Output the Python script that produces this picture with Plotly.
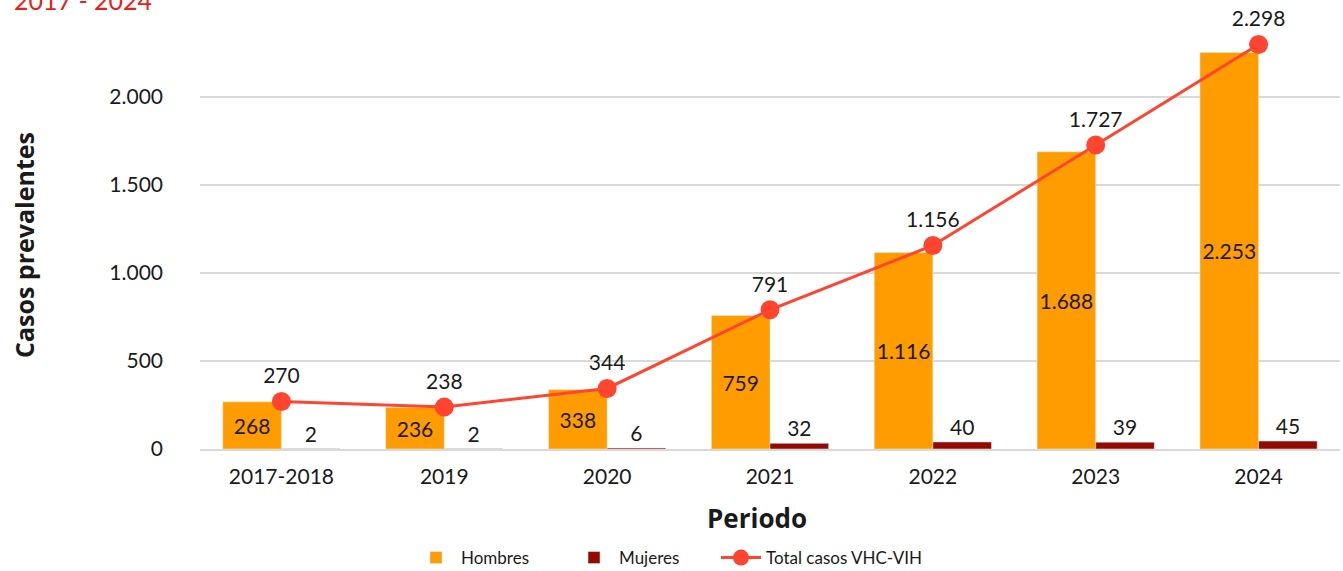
import plotly.graph_objects as go

periodos = ["2017-2018", "2019", "2020", "2021", "2022", "2023", "2024"]
hombres = [268, 236, 338, 759, 1116, 1688, 2253]
mujeres = [2, 2, 6, 32, 40, 39, 45]
total = [270, 238, 344, 791, 1156, 1727, 2298]

FONT = "Lato"
TITLE_FONT = "Open Sans"
W, H = 1343, 571
L, R, T, B = 200, 3, 10, 122
PW, PH = W - L - R, H - T - B


def px_x(x):
    return (x - L) / PW


def px_y(y):
    return (H - B - y) / PH


def legend_at(left):
    return dict(
        orientation="h", x=px_x(left), xanchor="left",
        y=px_y(558), yanchor="middle",
        font=dict(size=17, family=FONT), itemwidth=40,
    )


fig = go.Figure()
fig.add_trace(go.Bar(
    x=periodos, y=hombres, name="Hombres",
    marker_color="#FF9C00",
    texttemplate="%{y:,}",
    textposition="inside", insidetextanchor="middle",
    textangle=0, constraintext="none",
    textfont=dict(size=21, color="#1a1a1a", family=FONT),
    legend="legend",
))
fig.add_trace(go.Bar(
    x=periodos, y=mujeres, name="Mujeres",
    marker_color="#920A00",
    texttemplate="%{y:,}",
    textposition="outside", textangle=0, constraintext="none",
    textfont=dict(size=21, color="#1a1a1a", family=FONT),
    cliponaxis=False,
    legend="legend2",
))
fig.add_trace(go.Scatter(
    x=periodos, y=total, name="Total casos VHC-VIH",
    mode="lines+markers+text",
    line=dict(color="#FF4530", width=3),
    marker=dict(color="#FF4530", size=19),
    texttemplate="%{y:,}",
    textposition="top center",
    textfont=dict(size=21, color="#1a1a1a", family=FONT),
    cliponaxis=False,
    legend="legend3",
))

fig.update_layout(
    width=W, height=H,
    margin=dict(l=L, r=R, t=T, b=B, autoexpand=False),
    plot_bgcolor="white", paper_bgcolor="white",
    barmode="group", bargap=0.28, bargroupgap=0,
    separators=",.",
    font=dict(family=FONT, size=21, color="#1a1a1a"),
    showlegend=True,
    legend=legend_at(411),
    legend2=legend_at(569),
    legend3=legend_at(716),
    xaxis=dict(
        showgrid=False, showline=True, linecolor="#d9d9d9", linewidth=1.5,
        ticks="", tickfont=dict(size=21), ticklabelstandoff=8,
        automargin=False,
    ),
    yaxis=dict(
        range=[0, 2494], dtick=500, tickformat=",d",
        showgrid=True, gridcolor="#d9d9d9", gridwidth=1.5,
        zeroline=False, ticks="", tickfont=dict(size=21),
        ticklabelstandoff=36, automargin=False,
    ),
    annotations=[
        dict(text="<b>Casos prevalentes</b>", textangle=-90,
             xref="paper", yref="paper", x=px_x(24), y=px_y(245),
             xanchor="center", yanchor="middle", showarrow=False,
             font=dict(size=25, family=TITLE_FONT, color="#1a1a1a")),
        dict(text="<b>Periodo</b>",
             xref="paper", yref="paper", x=px_x(757), y=px_y(518),
             xanchor="center", yanchor="middle", showarrow=False,
             font=dict(size=26, family=TITLE_FONT, color="#1a1a1a")),
        dict(text="2017 - 2024",
             xref="paper", yref="paper", x=px_x(12), y=px_y(0),
             xanchor="left", yanchor="middle", showarrow=False,
             font=dict(size=25, family=FONT, color="#E8201A")),
    ],
)

fig.write_html(
    "out.html",
    config={"displayModeBar": False},
    post_script="document.body.style.margin='0px';",
)
